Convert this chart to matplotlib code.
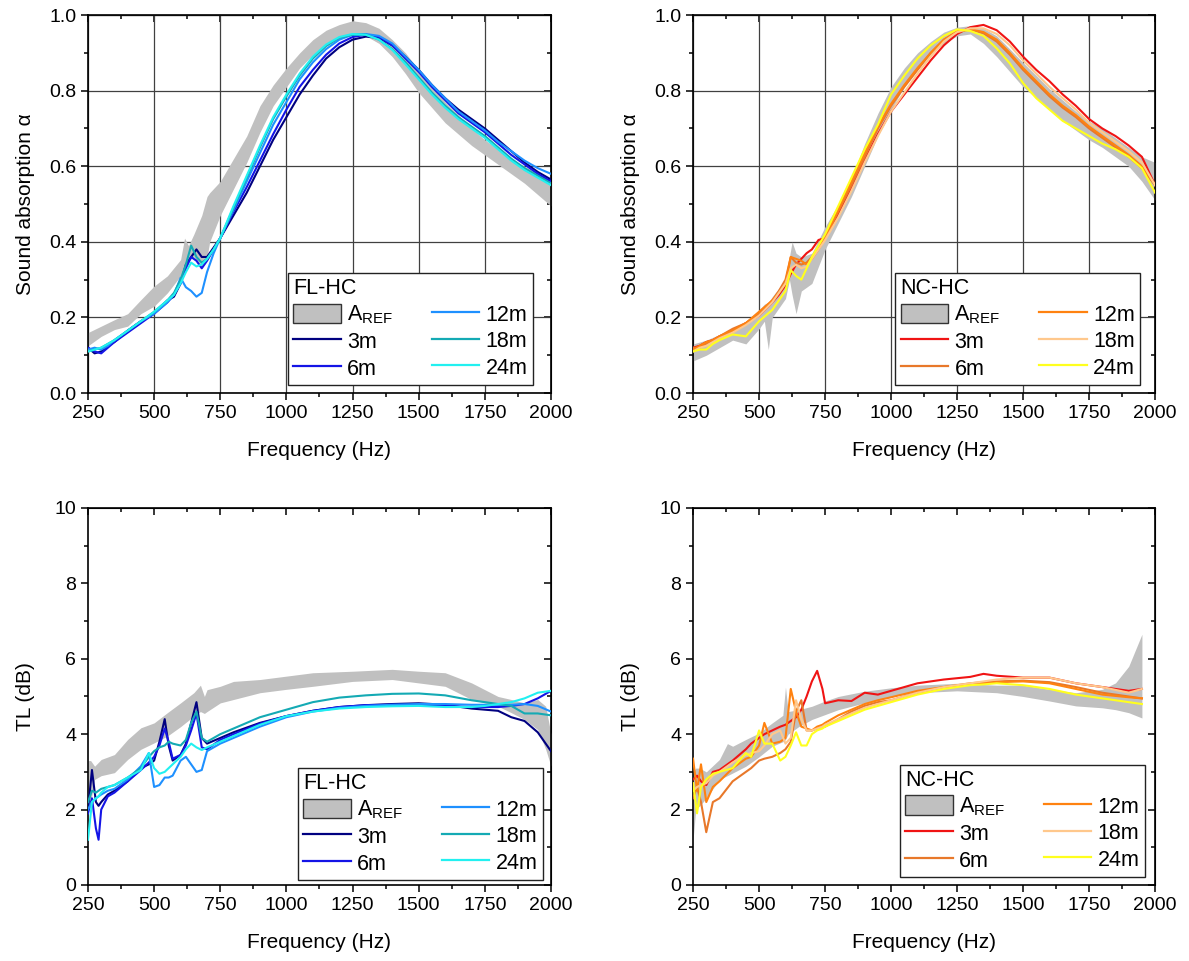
import matplotlib
matplotlib.use("Agg")
import matplotlib.pyplot as plt
from matplotlib.patches import Patch
from matplotlib.lines import Line2D
from matplotlib.ticker import MultipleLocator

plt.rcParams["font.family"] = ["Liberation Sans", "DejaVu Sans"]
plt.rcParams["mathtext.fontset"] = "custom"
plt.rcParams["mathtext.rm"] = "Liberation Sans"
plt.rcParams["mathtext.it"] = "Liberation Sans:italic"

# ---------------------------------------------------------
# Data
# ---------------------------------------------------------
labels = ["3m", "6m", "12m", "18m", "24m"]
fl_colors = ["#000080", "#1414E6", "#1E90FF", "#14AAB4", "#22F0F0"]
nc_colors = ["#F01414", "#E8782A", "#FF8210", "#FFC88C", "#FFFF1E"]

# absorption, frequency grid of the lines
fa = [250, 275, 300, 325, 350, 400, 450, 500, 550, 575, 600, 620, 640, 660, 680, 700, 725, 750,
      800, 850, 900, 950, 1000, 1050, 1100, 1150, 1200, 1250, 1300, 1350, 1400, 1450, 1500,
      1550, 1600, 1650, 1700, 1750, 1800, 1850, 1900, 1950, 2000]

fl_a_3m = [0.12, 0.105, 0.11, 0.125, 0.135, 0.165, 0.19, 0.21, 0.245, 0.255, 0.29, 0.34, 0.36, 0.38, 0.36, 0.36, 0.385, 0.41,
           0.47, 0.53, 0.60, 0.67, 0.73, 0.79, 0.84, 0.885, 0.915, 0.935, 0.943, 0.94, 0.92, 0.89, 0.855,
           0.815, 0.78, 0.75, 0.725, 0.70, 0.67, 0.64, 0.61, 0.585, 0.565]
fl_a_6m = [0.12, 0.11, 0.105, 0.12, 0.135, 0.16, 0.185, 0.21, 0.24, 0.26, 0.29, 0.33, 0.36, 0.35, 0.33, 0.35, 0.38, 0.41,
           0.48, 0.545, 0.615, 0.685, 0.75, 0.81, 0.855, 0.895, 0.925, 0.942, 0.948, 0.942, 0.92, 0.885, 0.85,
           0.81, 0.775, 0.74, 0.715, 0.69, 0.66, 0.63, 0.605, 0.58, 0.56]
fl_a_12m = [0.115, 0.12, 0.115, 0.125, 0.14, 0.165, 0.19, 0.21, 0.24, 0.26, 0.305, 0.28, 0.27, 0.255, 0.265, 0.32, 0.37, 0.41,
            0.485, 0.56, 0.635, 0.71, 0.77, 0.83, 0.875, 0.91, 0.935, 0.948, 0.95, 0.945, 0.925, 0.89, 0.855,
            0.815, 0.78, 0.745, 0.72, 0.695, 0.665, 0.64, 0.615, 0.595, 0.58]
fl_a_18m = [0.11, 0.115, 0.12, 0.13, 0.14, 0.165, 0.19, 0.215, 0.245, 0.265, 0.30, 0.34, 0.39, 0.36, 0.345, 0.355, 0.38, 0.41,
            0.49, 0.57, 0.65, 0.725, 0.785, 0.84, 0.885, 0.918, 0.94, 0.948, 0.948, 0.935, 0.91, 0.875, 0.835,
            0.795, 0.76, 0.73, 0.705, 0.68, 0.65, 0.62, 0.595, 0.575, 0.555]
fl_a_24m = [0.11, 0.115, 0.12, 0.13, 0.14, 0.165, 0.19, 0.215, 0.245, 0.26, 0.29, 0.32, 0.345, 0.335, 0.34, 0.355, 0.38, 0.41,
            0.495, 0.575, 0.655, 0.73, 0.79, 0.845, 0.89, 0.922, 0.942, 0.95, 0.948, 0.935, 0.908, 0.87, 0.83,
            0.79, 0.755, 0.725, 0.70, 0.675, 0.645, 0.615, 0.59, 0.57, 0.55]

fl_a_ref_f = [250, 300, 350, 400, 450, 500, 550, 600, 615, 630, 650, 680, 700, 710, 750, 800, 850, 900, 950,
              1000, 1050, 1100, 1150, 1200, 1250, 1300, 1350, 1400, 1450, 1500, 1550, 1600, 1650, 1700,
              1750, 1800, 1850, 1900, 1950, 2000]
fl_a_ref_lo = [0.125, 0.15, 0.168, 0.177, 0.21, 0.23, 0.265, 0.31, 0.33, 0.35, 0.36, 0.33, 0.36, 0.40, 0.47, 0.54, 0.61, 0.69, 0.76,
               0.81, 0.86, 0.895, 0.925, 0.945, 0.95, 0.945, 0.925, 0.89, 0.845, 0.795, 0.755, 0.715, 0.685, 0.655,
               0.63, 0.605, 0.58, 0.555, 0.525, 0.495]
fl_a_ref_hi = [0.16, 0.177, 0.194, 0.21, 0.247, 0.283, 0.31, 0.353, 0.41, 0.39, 0.42, 0.47, 0.52, 0.53, 0.56, 0.62, 0.68, 0.76, 0.815,
               0.86, 0.90, 0.935, 0.96, 0.975, 0.985, 0.98, 0.965, 0.935, 0.90, 0.855, 0.815, 0.77, 0.735, 0.70,
               0.67, 0.645, 0.62, 0.60, 0.58, 0.56]

nc_a_3m = [0.12, 0.125, 0.135, 0.14, 0.15, 0.165, 0.185, 0.205, 0.24, 0.26, 0.285, 0.315, 0.34, 0.355, 0.37, 0.38, 0.405, 0.41,
           0.475, 0.545, 0.615, 0.685, 0.745, 0.79, 0.835, 0.88, 0.92, 0.95, 0.968, 0.974, 0.96, 0.93, 0.89,
           0.855, 0.825, 0.79, 0.76, 0.725, 0.70, 0.68, 0.655, 0.625, 0.55]
nc_a_6m = [0.12, 0.12, 0.13, 0.14, 0.15, 0.17, 0.185, 0.21, 0.245, 0.27, 0.30, 0.36, 0.345, 0.34, 0.345, 0.36, 0.385, 0.41,
           0.48, 0.55, 0.625, 0.70, 0.76, 0.81, 0.855, 0.90, 0.935, 0.955, 0.962, 0.952, 0.93, 0.895, 0.855,
           0.82, 0.785, 0.755, 0.73, 0.70, 0.675, 0.65, 0.625, 0.595, 0.55]
nc_a_12m = [0.115, 0.125, 0.135, 0.14, 0.15, 0.165, 0.185, 0.215, 0.245, 0.265, 0.29, 0.36, 0.355, 0.35, 0.34, 0.355, 0.38, 0.41,
            0.485, 0.56, 0.635, 0.705, 0.765, 0.815, 0.86, 0.90, 0.935, 0.957, 0.963, 0.955, 0.935, 0.90, 0.86,
            0.825, 0.79, 0.76, 0.735, 0.705, 0.68, 0.655, 0.63, 0.60, 0.55]
nc_a_18m = [0.11, 0.12, 0.125, 0.135, 0.145, 0.16, 0.18, 0.205, 0.24, 0.265, 0.29, 0.33, 0.34, 0.33, 0.335, 0.355, 0.38, 0.405,
            0.465, 0.535, 0.61, 0.68, 0.745, 0.795, 0.845, 0.89, 0.93, 0.955, 0.965, 0.965, 0.95, 0.92, 0.88,
            0.845, 0.81, 0.78, 0.75, 0.715, 0.69, 0.665, 0.64, 0.61, 0.55]
nc_a_24m = [0.11, 0.115, 0.115, 0.13, 0.14, 0.155, 0.15, 0.19, 0.22, 0.245, 0.27, 0.325, 0.31, 0.30, 0.33, 0.36, 0.39, 0.42,
            0.495, 0.57, 0.645, 0.71, 0.79, 0.84, 0.885, 0.92, 0.945, 0.962, 0.958, 0.945, 0.912, 0.872, 0.82,
            0.78, 0.75, 0.72, 0.70, 0.68, 0.66, 0.645, 0.625, 0.595, 0.53]

nc_a_ref_f = [250, 300, 350, 400, 450, 500, 520, 535, 550, 600, 615, 625, 640, 660, 700, 750, 800, 850, 900, 950,
              1000, 1050, 1100, 1150, 1200, 1250, 1300, 1350, 1400, 1450, 1500, 1550, 1600, 1650, 1700,
              1750, 1800, 1850, 1900, 1950, 2000]
nc_a_ref_lo = [0.085, 0.10, 0.12, 0.14, 0.13, 0.17, 0.19, 0.115, 0.20, 0.25, 0.30, 0.26, 0.21, 0.27, 0.29, 0.38, 0.45, 0.52, 0.60, 0.68,
               0.75, 0.81, 0.855, 0.895, 0.925, 0.945, 0.95, 0.925, 0.89, 0.85, 0.81, 0.78, 0.75, 0.72, 0.695,
               0.67, 0.65, 0.625, 0.60, 0.56, 0.51]
nc_a_ref_hi = [0.13, 0.14, 0.155, 0.17, 0.19, 0.22, 0.235, 0.24, 0.255, 0.30, 0.36, 0.40, 0.37, 0.36, 0.37, 0.44, 0.50, 0.57, 0.66, 0.74,
               0.81, 0.86, 0.90, 0.93, 0.955, 0.968, 0.972, 0.965, 0.945, 0.91, 0.874, 0.84, 0.805, 0.775, 0.745,
               0.72, 0.70, 0.675, 0.65, 0.625, 0.61]

# transmission loss FL-HC
ft = [250, 265, 280, 290, 300, 325, 350, 400, 450, 480, 500, 520, 540, 555, 570, 600, 620, 640, 660, 680, 700,
      750, 800, 900, 1000, 1100, 1200, 1300, 1400, 1500, 1600, 1700, 1750, 1800, 1850, 1900, 1950, 2000]
fl_t_3m = [2.0, 3.05, 2.2, 2.1, 2.2, 2.4, 2.5, 2.75, 3.1, 3.2, 3.3, 3.8, 4.4, 3.7, 3.3, 3.45, 3.75, 4.3, 4.85, 3.9, 3.75,
           3.9, 4.05, 4.3, 4.48, 4.62, 4.72, 4.77, 4.8, 4.82, 4.78, 4.68, 4.65, 4.62, 4.45, 4.35, 4.05, 3.55]
fl_t_6m = [1.9, 2.3, 1.5, 1.2, 2.0, 2.35, 2.45, 2.75, 3.05, 3.25, 3.4, 3.7, 4.15, 3.8, 3.35, 3.45, 3.7, 4.1, 4.55, 3.65, 3.6,
           3.85, 4.0, 4.28, 4.48, 4.62, 4.72, 4.77, 4.78, 4.78, 4.75, 4.72, 4.72, 4.72, 4.75, 4.8, 4.95, 5.15]
fl_t_12m = [2.0, 2.2, 2.3, 2.35, 2.4, 2.5, 2.55, 2.8, 3.15, 3.5, 2.6, 2.65, 2.85, 2.85, 2.9, 3.3, 3.4, 3.2, 3.0, 3.05, 3.55,
            3.75, 3.9, 4.2, 4.45, 4.6, 4.7, 4.75, 4.78, 4.8, 4.8, 4.78, 4.78, 4.78, 4.78, 4.8, 4.75, 4.6]
fl_t_18m = [2.2, 2.5, 2.45, 2.5, 2.55, 2.6, 2.65, 2.85, 3.1, 3.4, 3.55, 3.65, 3.7, 3.8, 3.75, 3.7, 3.85, 4.3, 4.6, 3.9, 3.8,
            4.0, 4.15, 4.45, 4.65, 4.85, 4.97, 5.03, 5.07, 5.08, 5.03, 4.9, 4.85, 4.8, 4.75, 4.55, 4.55, 4.5]
fl_t_24m = [1.2, 2.2, 2.3, 2.35, 2.45, 2.6, 2.65, 2.85, 3.05, 3.5, 3.1, 2.95, 3.0, 3.1, 3.2, 3.4, 3.6, 3.75, 3.65, 3.58, 3.65,
            3.8, 3.95, 4.25, 4.48, 4.6, 4.68, 4.72, 4.74, 4.75, 4.72, 4.72, 4.75, 4.8, 4.85, 4.95, 5.1, 5.15]

fl_t_ref_f = [250, 260, 275, 300, 350, 400, 450, 500, 550, 600, 650, 675, 690, 700, 750, 800, 900, 1000, 1100,
              1250, 1400, 1500, 1600, 1700, 1750, 1800, 1850, 1900, 1950, 1980, 2000]
fl_t_ref_lo = [2.5, 2.2, 2.8, 2.9, 2.98, 3.33, 3.6, 3.77, 3.95, 4.2, 4.48, 4.6, 4.55, 4.6, 4.83, 4.92, 5.1, 5.19, 5.27,
               5.4, 5.45, 5.36, 5.27, 4.92, 4.83, 4.74, 4.57, 4.39, 4.12, 3.6, 3.15]
fl_t_ref_hi = [3.3, 3.3, 3.15, 3.33, 3.46, 3.86, 4.17, 4.3, 4.57, 4.83, 5.1, 5.3, 5.0, 5.18, 5.27, 5.4, 5.45, 5.54, 5.63,
               5.67, 5.72, 5.67, 5.63, 5.36, 5.18, 5.0, 4.92, 4.83, 4.92, 4.74, 4.0]

# transmission loss NC-HC
fn = [250, 265, 280, 300, 325, 350, 400, 450, 470, 500, 520, 550, 580, 600, 620, 640, 660, 680, 700, 720, 740,
      750, 800, 850, 900, 950, 1000, 1100, 1200, 1300, 1350, 1400, 1500, 1600, 1700, 1800, 1900, 1950]
nc_t_3m = [2.8, 2.9, 2.75, 2.65, 3.0, 3.05, 3.3, 3.6, 3.75, 3.9, 4.0, 4.1, 4.2, 4.25, 4.35, 4.45, 4.65, 5.0, 5.4, 5.68, 5.2,
           4.82, 4.9, 4.88, 5.1, 5.05, 5.15, 5.35, 5.45, 5.52, 5.6, 5.55, 5.5, 5.5, 5.35, 5.25, 5.15, 5.2]
nc_t_6m = [2.3, 2.6, 2.2, 1.4, 2.2, 2.3, 2.75, 3.0, 3.1, 3.3, 3.35, 3.4, 3.5, 3.6, 3.8, 4.6, 4.9, 4.1, 4.1, 4.15, 4.2,
           4.2, 4.4, 4.6, 4.75, 4.85, 4.9, 5.1, 5.25, 5.35, 5.38, 5.4, 5.42, 5.38, 5.25, 5.1, 5.0, 4.95]
nc_t_12m = [3.35, 2.5, 3.2, 2.2, 2.6, 2.75, 3.1, 3.35, 3.4, 3.7, 4.3, 3.75, 3.8, 3.9, 5.2, 4.6, 4.2, 4.15, 4.1, 4.2, 4.25,
            4.3, 4.5, 4.65, 4.8, 4.9, 4.98, 5.15, 5.25, 5.32, 5.35, 5.38, 5.4, 5.35, 5.2, 5.05, 4.98, 4.95]
nc_t_18m = [2.5, 2.6, 2.65, 2.7, 2.9, 3.0, 3.25, 3.45, 3.5, 3.55, 3.7, 4.0, 4.1, 3.75, 3.9, 4.9, 4.4, 4.1, 4.1, 4.15, 4.2,
            4.25, 4.4, 4.55, 4.7, 4.8, 4.9, 5.1, 5.25, 5.35, 5.4, 5.45, 5.5, 5.5, 5.35, 5.25, 5.1, 5.2]
nc_t_24m = [2.7, 1.9, 2.6, 2.8, 2.95, 3.0, 3.1, 3.5, 3.4, 4.1, 3.75, 3.75, 3.3, 3.4, 3.7, 4.05, 3.7, 3.7, 4.0, 4.1, 4.15,
            4.2, 4.35, 4.5, 4.65, 4.75, 4.85, 5.05, 5.2, 5.3, 5.32, 5.35, 5.3, 5.2, 5.05, 4.95, 4.85, 4.8]

nc_t_ref_f = [250, 260, 275, 300, 350, 380, 400, 450, 500, 550, 590, 600, 610, 650, 700, 750, 800, 900, 1000,
              1100, 1250, 1400, 1500, 1600, 1700, 1800, 1850, 1900, 1950]
nc_t_ref_lo = [1.2, 2.0, 2.1, 2.3, 2.8, 2.9, 2.97, 3.15, 3.4, 3.68, 3.8, 3.86, 4.0, 4.2, 4.39, 4.52, 4.65, 4.83, 5.0,
               5.1, 5.15, 5.1, 5.0, 4.88, 4.75, 4.7, 4.65, 4.57, 4.43]
nc_t_ref_hi = [3.0, 3.1, 3.1, 3.0, 3.33, 3.75, 3.68, 3.86, 4.03, 4.3, 4.5, 5.25, 4.6, 4.65, 4.74, 4.88, 5.0, 5.14, 5.23,
               5.3, 5.35, 5.3, 5.3, 5.19, 5.1, 5.19, 5.36, 5.8, 6.65]

REF_GRAY = "#C0C0C0"


def style_axes(ax, ymax, ymajor, yminor, grid):
    ax.set_xlim(250, 2000)
    ax.set_ylim(0, ymax)
    ax.xaxis.set_major_locator(MultipleLocator(250))
    ax.xaxis.set_minor_locator(MultipleLocator(125))
    ax.yaxis.set_major_locator(MultipleLocator(ymajor))
    ax.yaxis.set_minor_locator(MultipleLocator(yminor))
    ax.tick_params(which="both", direction="out", labelsize=14, width=1.1, top=False, right=False)
    ax.tick_params(which="major", length=5)
    ax.tick_params(which="minor", length=3)
    for s in ax.spines.values():
        s.set_linewidth(1.2)
    # ticks pointing inward on top / right
    top = ax.secondary_xaxis("top")
    top.xaxis.set_major_locator(MultipleLocator(250))
    top.xaxis.set_minor_locator(MultipleLocator(125))
    top.tick_params(which="both", direction="in", labeltop=False, width=1.1)
    top.tick_params(which="major", length=5)
    top.tick_params(which="minor", length=3)
    right = ax.secondary_yaxis("right")
    right.yaxis.set_major_locator(MultipleLocator(ymajor))
    right.yaxis.set_minor_locator(MultipleLocator(yminor))
    right.tick_params(which="both", direction="in", labelright=False, width=1.1)
    right.tick_params(which="major", length=5)
    right.tick_params(which="minor", length=3)
    if grid:
        ax.set_axisbelow(True)
        ax.grid(True, which="major", color="#404040", lw=0.9)
    ax.set_xlabel("Frequency (Hz)", fontsize=15, labelpad=14)


def draw(ax, ref_f, ref_lo, ref_hi, f, series, colors, title, anchor):
    ax.fill_between(ref_f, ref_lo, ref_hi, color=REF_GRAY, lw=0, zorder=2)
    for ys, c in zip(series, colors):
        ax.plot(f, ys, color=c, lw=1.5, zorder=3)
    handles = [Patch(facecolor=REF_GRAY, edgecolor="#333333", lw=1.0)]
    handles += [Line2D([], [], color=c, lw=1.6) for c in colors]
    names = [r"A$_{\mathrm{REF}}$"] + labels
    leg = ax.legend(handles, names, title=title, ncol=2, loc="lower right",
                    bbox_to_anchor=anchor, borderaxespad=0, fontsize=15.5, title_fontsize=15.5,
                    alignment="left", frameon=True, fancybox=False, edgecolor="#222222",
                    framealpha=1, handlelength=2.2, handleheight=1.05, handletextpad=0.3,
                    columnspacing=1.8, labelspacing=0.2, borderpad=0.25)
    leg.get_frame().set_linewidth(1.0)
    leg.set_zorder(5)


fig = plt.figure(figsize=(11.89, 9.61), dpi=100)
ax1 = fig.add_axes([0.074, 0.591, 0.3894, 0.3933])
ax2 = fig.add_axes([0.5829, 0.591, 0.3886, 0.3933])
ax3 = fig.add_axes([0.074, 0.0791, 0.3894, 0.3923])
ax4 = fig.add_axes([0.5829, 0.0791, 0.3886, 0.3923])

draw(ax1, fl_a_ref_f, fl_a_ref_lo, fl_a_ref_hi, fa,
     [fl_a_3m, fl_a_6m, fl_a_12m, fl_a_18m, fl_a_24m], fl_colors, "FL-HC", (0.961, 0.021))
draw(ax2, nc_a_ref_f, nc_a_ref_lo, nc_a_ref_hi, fa,
     [nc_a_3m, nc_a_6m, nc_a_12m, nc_a_18m, nc_a_24m], nc_colors, "NC-HC", (0.968, 0.021))
draw(ax3, fl_t_ref_f, fl_t_ref_lo, fl_t_ref_hi, ft,
     [fl_t_3m, fl_t_6m, fl_t_12m, fl_t_18m, fl_t_24m], fl_colors, "FL-HC", (0.983, 0.013))
draw(ax4, nc_t_ref_f, nc_t_ref_lo, nc_t_ref_hi, fn,
     [nc_t_3m, nc_t_6m, nc_t_12m, nc_t_18m, nc_t_24m], nc_colors, "NC-HC", (0.978, 0.021))

for ax in (ax1, ax2):
    style_axes(ax, 1.0, 0.2, 0.1, grid=True)
    ax.set_ylabel("Sound absorption \u03b1", fontsize=15, labelpad=10)
for ax in (ax3, ax4):
    style_axes(ax, 10, 2, 1, grid=False)
    ax.set_ylabel("TL (dB)", fontsize=15, labelpad=14)

fig.savefig("out.png", dpi=100)
